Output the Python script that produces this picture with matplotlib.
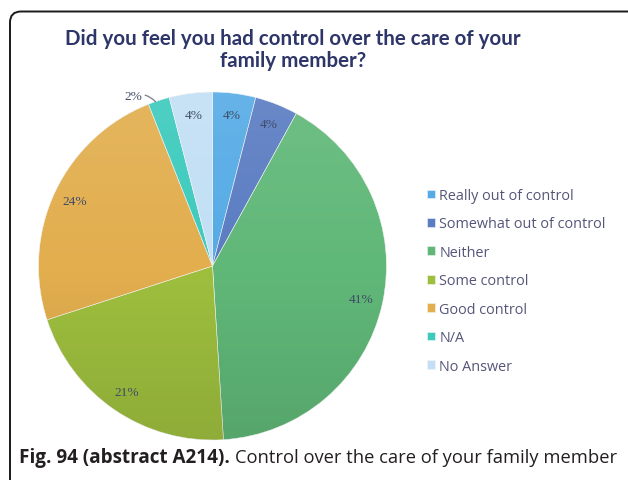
import matplotlib
matplotlib.use("Agg")
import matplotlib.pyplot as plt
import numpy as np
from matplotlib.patches import FancyBboxPatch, Circle
from matplotlib.transforms import IdentityTransform

categories = ["Really out of control", "Somewhat out of control", "Neither",
              "Some control", "Good control", "N/A", "No Answer"]
values = [4, 4, 41, 21, 24, 2, 4]
colors = ["#55abe6", "#5a7cc2", "#60b878", "#9ebf3e", "#e2ae4e", "#3ccabd", "#c2dff5"]

title = "Did you feel you had control over the care of your\nfamily member?"
caption_bold = "Fig. 94 (abstract A214)."
caption_rest = "Control over the care of your family member"

W, H = 628, 481
fig = plt.figure(figsize=(W / 100, H / 100), dpi=100)

# frame with rounded top-left corner (only top and left edges visible)
border = FancyBboxPatch((10, -40), 700, H - 12.5 + 40,
                        boxstyle="round,pad=0,rounding_size=11",
                        transform=IdentityTransform(), fill=False,
                        ec="#1a1a1a", lw=1.4)
fig.patches.append(border)

# pie
cx, cy, r = 212.5, 267, 174
ax = fig.add_axes([(cx - r) / W, (H - cy - r) / H, 2 * r / W, 2 * r / H])
lab_style = dict(family="Liberation Serif", size=9.6, color="#3e4a66")
wedges, texts, autotexts = ax.pie(values, colors=colors, startangle=90, counterclock=False,
                                  autopct="%d%%", pctdistance=0.875,
                                  wedgeprops=dict(lw=0.4, ec="#f4f4f4"),
                                  textprops=lab_style)
ax.set_xlim(-1, 1)
ax.set_ylim(-1, 1)
ax.set_aspect("equal")
ax.axis("off")

# soft vertical shading like the original (lighter top, darker bottom)
g = np.linspace(1, -1, 256)[:, None]
shade = np.zeros((256, 1, 4))
shade[..., :3] = np.where(g > 0, 1.0, 0.0)[..., None]
shade[..., 3] = np.abs(g) * np.where(g > 0, 0.10, 0.10)
im = ax.imshow(shade, extent=(-1, 1, -1, 1), aspect="auto", zorder=3, interpolation="bilinear")
im.set_clip_path(Circle((0, 0), 1, transform=ax.transData))
for t in autotexts:
    t.set_zorder(4)

# the small N/A slice gets its label outside with a leader line
i = categories.index("N/A")
w = wedges[i]
mid = np.deg2rad((w.theta1 + w.theta2) / 2)
autotexts[i].set_visible(False)
ax.annotate(f"{values[i]}%", xy=(np.cos(mid + 0.02), np.sin(mid + 0.02)),
            xytext=(1.08 * np.cos(mid + 0.12), 1.08 * np.sin(mid + 0.12)),
            ha="center", va="center", annotation_clip=False, zorder=5, **lab_style,
            arrowprops=dict(arrowstyle="-", color="#7a7a8c", lw=0.9,
                            connectionstyle="arc3,rad=-0.3", shrinkA=0, shrinkB=0))

leg = fig.legend(wedges, categories, loc="upper left",
                 bbox_to_anchor=(427 / W, (H - 189) / H), frameon=False,
                 borderpad=0, borderaxespad=0, handlelength=0.55, handleheight=0.55,
                 handletextpad=0.3, labelspacing=0.93,
                 prop=dict(family="Open Sans", size=10.4))
for t in leg.get_texts():
    t.set_color("#55557a")

fig.text(293 / W, 1 - 29 / H, title, ha="center", va="top", multialignment="center",
         family="Lato", weight="bold", size=14.8, color="#2e3669", linespacing=1.12)

t1 = fig.text(19 / W, 1 - 458 / H, caption_bold, ha="left", va="center",
              family="Open Sans", weight="bold", size=13.6, color="#231f20")
fig.canvas.draw()
bb = t1.get_window_extent()
fig.text((bb.x1 + 5) / W, 1 - 458 / H, caption_rest, ha="left", va="center",
         family="Open Sans", size=13.2, color="#231f20")

fig.savefig("out.png", dpi=100)
